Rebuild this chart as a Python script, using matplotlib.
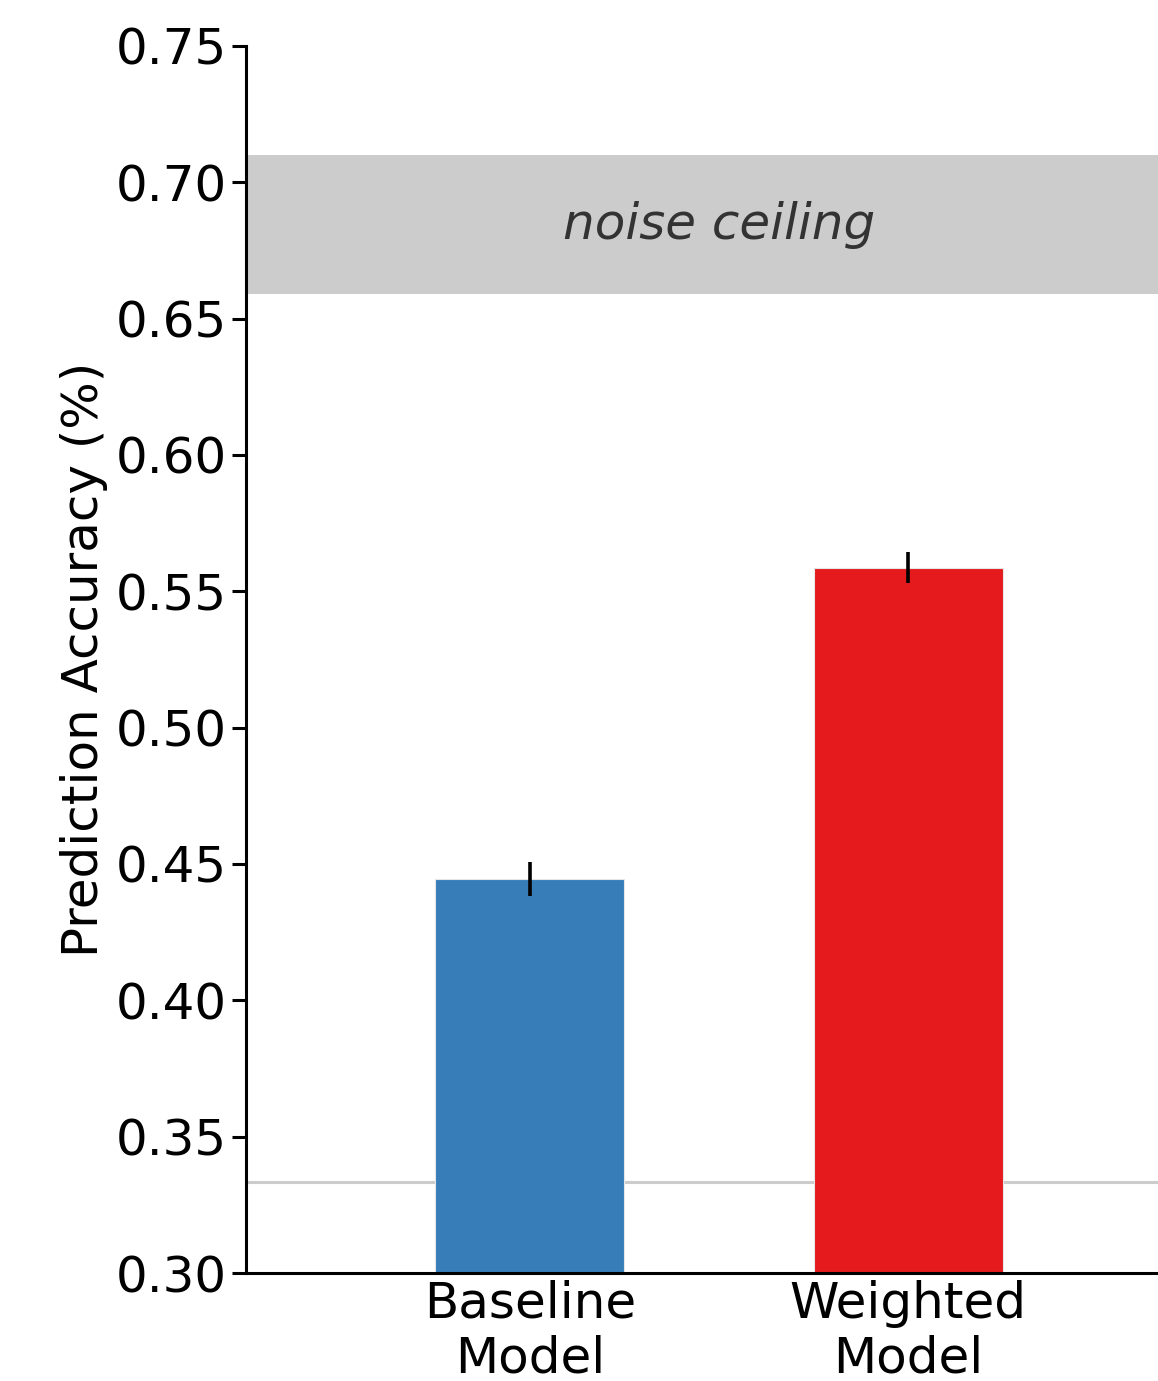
import numpy as np
import matplotlib.pyplot as plt

models = ["Baseline\nModel", "Weighted\nModel"]
accuracy = [0.4445, 0.5587]
errors = [0.0062, 0.0057]
bar_colors = ["#377eb8", "#e41a1c"]
noise_ceiling = [0.659, 0.710]
chance = 1 / 3

fig = plt.figure(figsize=(11.58, 13.81), dpi=100)
ax = fig.add_axes([0.2124, 0.0782, 0.7876, 0.8885])

x = np.arange(len(models))
ax.axhspan(noise_ceiling[0], noise_ceiling[1], color="#cccccc", lw=0, zorder=0)
ax.axhline(chance, color="#cccccc", lw=2.2, zorder=0)
ax.bar(x, accuracy, width=0.5, color=bar_colors, edgecolor="#e6e6e6",
       linewidth=0.8, zorder=2)
ax.errorbar(x, accuracy, yerr=errors, fmt="none", ecolor="black",
            elinewidth=2.6, capsize=0, zorder=3)
ax.text(0.5, np.mean(noise_ceiling), "noise ceiling", style="italic",
        color="#333333", fontsize=36, ha="center", va="center")

ax.set_xlim(-0.75, 1.66)
ax.set_ylim(0.30, 0.75)
ax.set_yticks(np.arange(0.30, 0.751, 0.05))
ax.set_yticklabels([f"{v:.2f}" for v in np.arange(0.30, 0.751, 0.05)])
ax.set_xticks(x)
ax.set_xticklabels(models, linespacing=1.18)
ax.tick_params(axis="y", labelsize=36, length=10, width=2.2, pad=3.5)
ax.tick_params(axis="x", labelsize=36, length=0, pad=5)
ax.set_ylabel("Prediction Accuracy (%)", fontsize=36, labelpad=6)

for s in ["top", "right"]:
    ax.spines[s].set_visible(False)
for s in ["left", "bottom"]:
    ax.spines[s].set_linewidth(2.2)

fig.savefig("out.png", dpi=100)
